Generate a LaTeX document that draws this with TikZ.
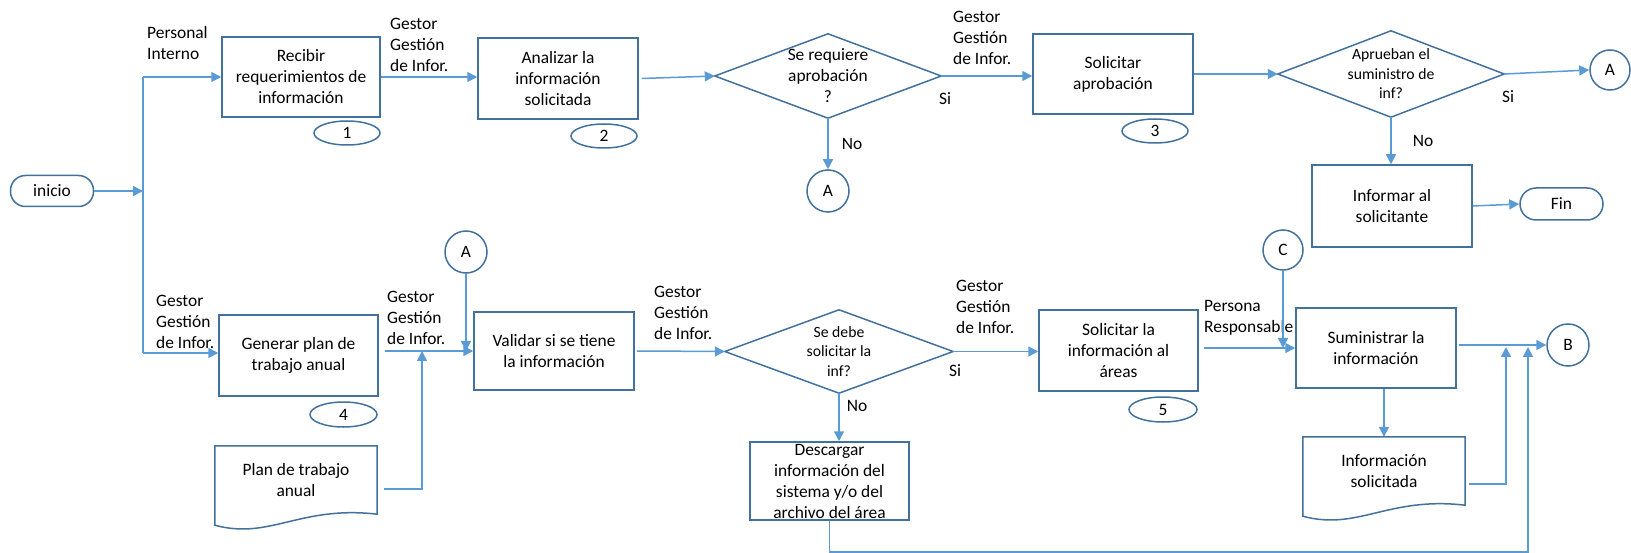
\documentclass[tikz,border=0pt]{standalone}
\usepackage{fontspec}
\setmainfont{Carlito}
\usetikzlibrary{shapes.geometric,arrows.meta,calc}
\definecolor{linkblue}{HTML}{5B9BD5}
\definecolor{edgeblue}{HTML}{41719C}

% outline of a document symbol: straight top and sides, wavy bottom edge
\newcommand\docoutline[1]{%
  \draw[boxline] (#1.north west) -- (#1.north east) -- (#1.south east)
    .. controls ($(#1.south west)+(85,-9)$) and ($(#1.south west)+(55,26)$)
    .. ($(#1.south west)+(0,11)$) -- cycle;}
% outline of a decision symbol
\newcommand\decoutline[1]{%
  \draw[boxline] (#1.west) -- (#1.north) -- (#1.east) -- (#1.south) -- cycle;}

\begin{document}
\begin{tikzpicture}[x=1pt,y=-1pt,
  font=\fontsize{17.4}{21}\selectfont,
  boxline/.style={draw=edgeblue,line width=1.5pt},
  box/.style={boxline,rectangle,inner sep=0pt,align=center},
  term/.style={box,rounded corners=15pt},
  circ/.style={circle,draw=edgeblue,line width=1.5pt,minimum size=42pt,inner sep=0pt},
  oval/.style={ellipse,draw=edgeblue,line width=1.5pt,minimum width=66pt,minimum height=24pt,inner sep=0pt},
  decbox/.style={rectangle,inner sep=0pt,align=center,minimum width=226pt,minimum height=84pt},
  docnode/.style={rectangle,inner sep=0pt,align=center,minimum width=162pt,minimum height=68pt},
  conn/.style={draw=linkblue,line width=1.5pt,-{Triangle[length=10pt,width=10pt]}},
  wire/.style={draw=linkblue,line width=1.5pt},
  lbl/.style={align=left,anchor=west,inner sep=0pt},
  tag/.style={inner sep=0pt},
  small/.style={font=\fontsize{15.7}{19.5}\selectfont}
]
\useasboundingbox (0,0) rectangle (1631,553);

% ---- upper row ----
\node[term,minimum width=83pt,minimum height=31pt] (inicio) at (52,191) {inicio};
\node[box,minimum width=158pt,minimum height=80pt] (recibir) at (301,77) {Recibir\\requerimientos de\\información};
\node[oval] (n1) at (347,133) {1};
\node[box,minimum width=160pt,minimum height=81pt] (analizar) at (558,78.5) {Analizar la\\información\\solicitada};
\node[oval] (n2) at (604,136) {2};
\node[decbox] (q1) at (828,76) {Se requiere\\aprobación\\?};
\decoutline{q1}
\node[circ] (a1) at (828,191) {A};
\node[box,minimum width=160pt,minimum height=80pt] (aprob) at (1113,74) {Solicitar\\aprobación};
\node[oval] (n3) at (1155,131) {3};
\node[decbox,small,minimum height=86pt] (q2) at (1391,74) {Aprueban el\\suministro de\\inf?};
\decoutline{q2}
\node[circ,minimum size=40pt] (a2) at (1610,70) {A};
\node[box,minimum width=160pt,minimum height=82pt] (informar) at (1392,206) {Informar al\\solicitante};
\node[term,minimum width=83pt,minimum height=32pt,rounded corners=16pt] (fin) at (1561.5,204) {Fin};
\node[circ,minimum size=40pt] (c1) at (1283,250) {C};

% ---- lower row ----
\node[box,minimum width=159pt,minimum height=81pt] (generar) at (298.5,355.5) {Generar plan de\\trabajo anual};
\node[oval,minimum width=67pt,minimum height=25pt] (n4) at (343.5,414.5) {4};
\node[docnode] (plan) at (296,480) {Plan de trabajo\\anual};
\docoutline{plan}
\node[circ] (a3) at (466,252) {A};
\node[box,minimum width=160pt,minimum height=78pt] (validar) at (554,351) {Validar si se tiene\\la información};
\node[decbox,small,minimum width=228pt,minimum height=83pt] (q3) at (839,351.5) {Se debe\\solicitar la\\inf?};
\decoutline{q3}
\node[box,minimum width=159pt,minimum height=78pt] (descargar) at (829.5,481) {Descargar\\información del\\sistema y/o del\\archivo del área};
\node[box,minimum width=159pt,minimum height=81pt] (solinfo) at (1118.5,350.5) {Solicitar la\\información al\\áreas};
\node[oval,minimum width=68pt,minimum height=25pt] (n5) at (1163,409.5) {5};
\node[box,minimum width=160pt,minimum height=80pt] (sumin) at (1376,348) {Suministrar la\\información};
\node[docnode] (infosol) at (1384,471) {Información\\solicitada};
\docoutline{infosol}
\node[circ] (b1) at (1568,345) {B};

% ---- role labels ----
\node[lbl] (lp1) at (147,43.5) {Personal\\Interno};
\node[lbl] (lg1) at (390,45) {Gestor\\Gestión\\de Infor.};
\node[lbl] (lg2) at (953,38) {Gestor\\Gestión\\de Infor.};
\node[lbl] (lg3) at (156,322) {Gestor\\Gestión\\de Infor.};
\node[lbl] (lg4) at (387,318) {Gestor\\Gestión\\de Infor.};
\node[lbl] (lg5) at (654,313) {Gestor\\Gestión\\de Infor.};
\node[lbl] (lg6) at (956,307) {Gestor\\Gestión\\de Infor.};
\node[lbl] (lpr) at (1204,317.5) {Persona\\Responsable};

% ---- branch labels ----
\node[tag] (no1) at (852,144) {No};
\node[tag] (si1) at (945,99) {Si};
\node[tag] (no2) at (1423,141) {No};
\node[tag] (si2) at (1508,97) {Si};
\node[tag] (no3) at (857,406) {No};
\node[tag] (si3) at (955,371) {Si};

% ---- connectors ----
\coordinate (trunkT) at (143,77);
\coordinate (trunkM) at (143,191);
\coordinate (trunkB) at (143,353);
\draw[wire] (trunkT) -- (trunkB);
\draw[conn] (inicio.east) -- (trunkM);
\draw[conn] (trunkT) -- (trunkT -| recibir.west);
\draw[conn] (trunkB) -- (trunkB -| generar.west);
\draw[conn] (recibir.east) -- (recibir.east -| analizar.west);
\draw[conn] ([xshift=3pt]analizar.east) -- (q1.west);
\draw[conn] (q1.south) -- (a1.north);
\draw[conn] (q1.east) -- (q1.east -| aprob.west);
\draw[conn] (aprob.east) -- (q2.west);
\draw[conn] (q2.east) -- (a2.west);
\draw[conn] (q2.south) -- (q2.south |- informar.north);
\draw[conn] (informar.east) -- (fin.west);

\draw[conn] ($(generar.east |- validar.west)+(6,0)$) -- (validar.west);
\coordinate (gvjoin) at (422,351);
\draw[conn] ($(plan.east)+(7,9)$) -| (gvjoin);
\draw[conn] (a3.south) -- (a3.south |- validar.west);
\draw[conn] ([xshift=2pt]validar.east) -- (q3.west);
\draw[conn] (q3.south) -- (q3.south |- descargar.north);
\draw[conn] (q3.east) -- (q3.east -| solinfo.west);
\draw[conn] ($(solinfo.east |- sumin.west)+(5,0)$) -- (sumin.west);
\draw[conn] (c1.south) -- (c1.south |- sumin.west);
\draw[conn] ($(sumin.east |- b1.west)+(2,0)$) -- (b1.west);
\draw[conn] (infosol.north |- sumin.south) -- (infosol.north);
\coordinate (bjoin1) at (1506,347);
\draw[conn] ($(infosol.east)+(4,13)$) -| (bjoin1);
\coordinate (bottomR) at (1528,552);
\coordinate (bjoin2) at (1528,347);
\draw[conn] (descargar.south) |- (bottomR) -- (bjoin2);
\end{tikzpicture}
\end{document}
